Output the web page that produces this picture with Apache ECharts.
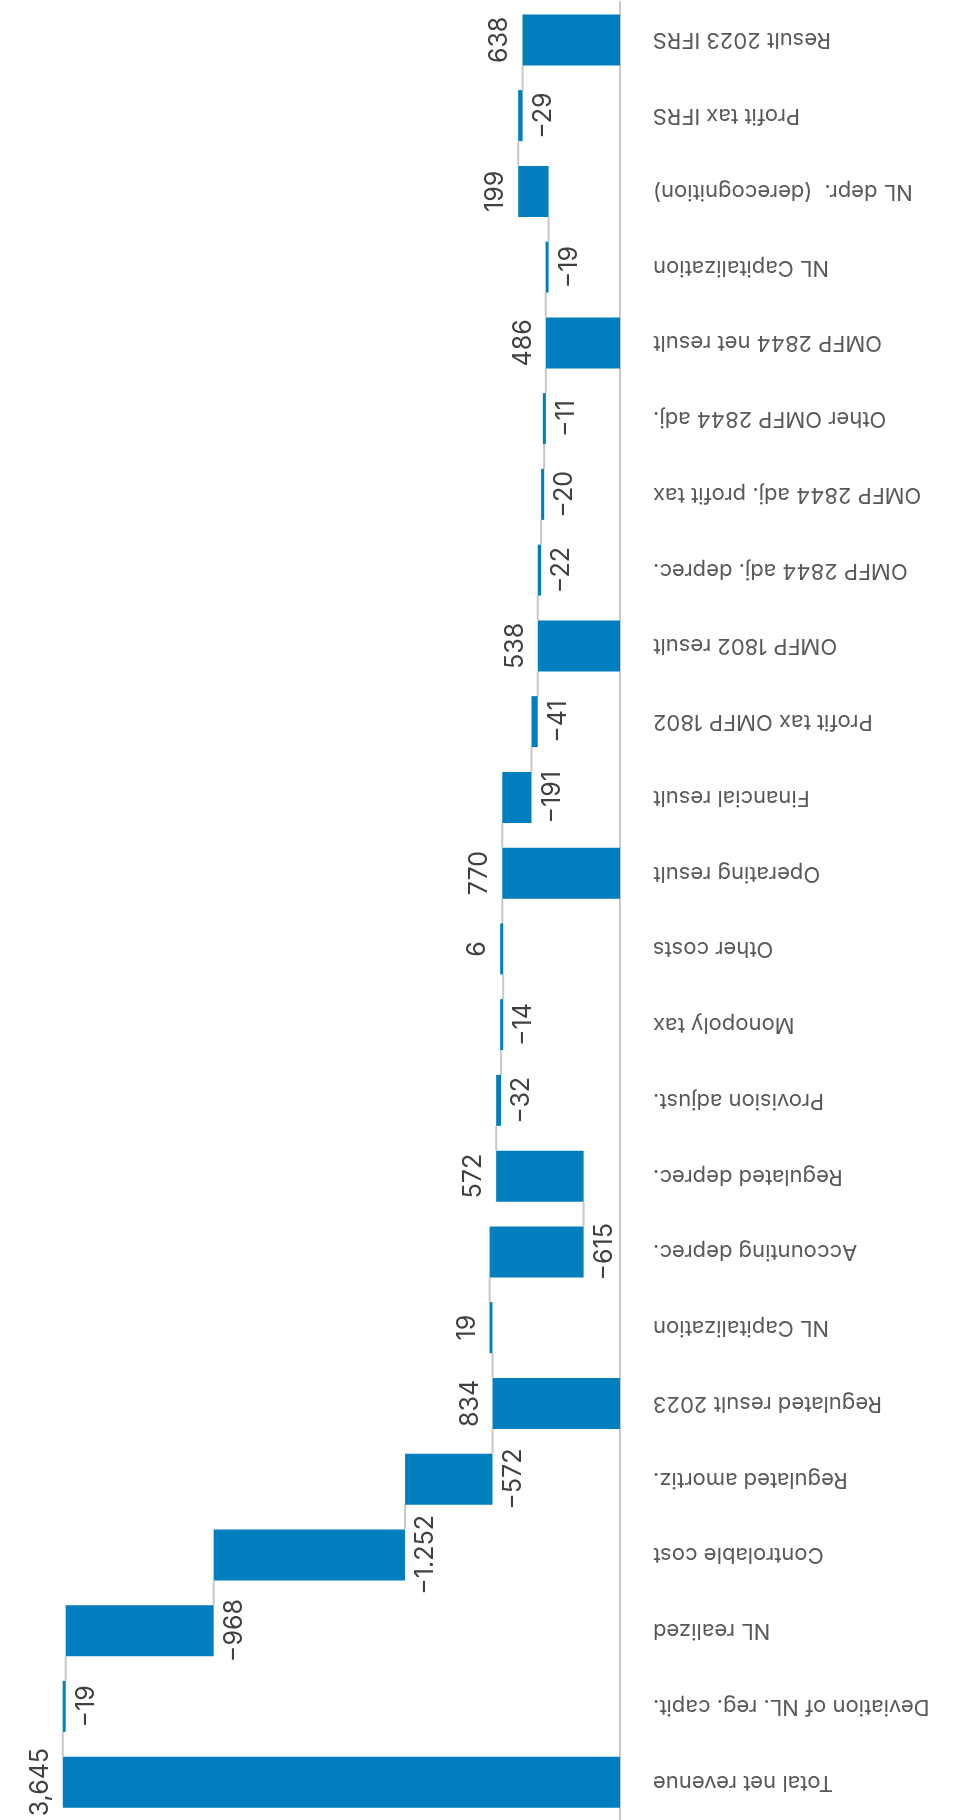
<!DOCTYPE html>
<html>
<head>
<meta charset="utf-8">
<title>Result bridge 2023</title>
<script src="https://cdn.jsdelivr.net/npm/echarts@6/dist/echarts.min.js"></script>
<style>
  html, body { margin: 0; padding: 0; background: #ffffff; }
  #chart { width: 955px; height: 1820px; }
</style>
</head>
<body>
<div id="chart"></div>
<script>
// Bridge steps, bottom to top
const categories = [
  'Total net revenue',
  'Deviation of NL. reg. capit.',
  'NL realized',
  'Controlable cost',
  'Regulated amortiz.',
  'Regulated result 2023',
  'NL Capitalization',
  'Accounting deprec.',
  'Regulated deprec.',
  'Provision adjust.',
  'Monopoly tax',
  'Other costs',
  'Operating result',
  'Financial result',
  'Profit tax OMFP 1802',
  'OMFP 1802 result',
  'OMFP 2844 adj. deprec.',
  'OMFP 2844 adj. profit tax',
  'Other OMFP 2844 adj.',
  'OMFP 2844 net result',
  'NL Capitalization',
  'NL depr.  (derecognition)',
  'Profit tax IFRS',
  'Result 2023 IFRS'
];

// Signed step values
const values = [3645, -19, -968, -1252, -572, 834, 19, -615, 572, -32, -14, 6,
                770, -191, -41, 538, -22, -20, -11, 486, -19, 199, -29, 638];

// 1 = subtotal drawn from zero, 0 = change from the running total
const isSubtotal = [1, 0, 0, 0, 0, 1, 0, 0, 0, 0, 0, 0,
                    1, 0, 0, 1, 0, 0, 0, 1, 0, 0, 0, 1];

const BAR_COLOR = '#007EBD';
const LINK_COLOR = '#c8c8c8';
const BAR_W = 51;
const FONT = 'Inter, "Noto Sans", sans-serif';

// Running totals: invisible offset + visible bar length + level after each step
const offsets = [];
const lengths = [];
const levels = [];
let running = 0;
values.forEach((v, i) => {
  if (isSubtotal[i]) {
    offsets.push(0);
    lengths.push(v);
    running = v;
  } else {
    const next = running + v;
    offsets.push(Math.min(running, next));
    lengths.push(Math.abs(v));
    running = next;
  }
  levels.push(running);
});

function group(n, sep) {
  return String(n).replace(/\B(?=(\d{3})+(?!\d))/g, sep);
}
function fmt(v) {
  return v < 0 ? '\u2212' + group(-v, '.') : group(v, ',');
}

const barData = lengths.map((len, i) => {
  const up = values[i] >= 0;
  return {
    value: len,
    label: {
      position: up ? 'left' : 'right',
      align: 'center',
      verticalAlign: up ? 'bottom' : 'top',
      distance: up ? 10 : 8
    }
  };
});

const linkData = [];
for (let i = 0; i < categories.length - 1; i++) {
  linkData.push([levels[i], i]);
}

const chart = echarts.init(document.getElementById('chart'), null, { renderer: 'canvas' });

chart.setOption({
  animation: false,
  backgroundColor: '#ffffff',
  grid: { left: 8.5, right: 335, top: 2, bottom: 0, containLabel: false },
  xAxis: {
    type: 'value',
    inverse: true,
    min: 0,
    max: 4000,
    show: false,
    splitLine: { show: false }
  },
  yAxis: {
    type: 'category',
    position: 'right',
    data: categories,
    axisLine: { show: true, lineStyle: { color: LINK_COLOR, width: 2 } },
    axisTick: { show: false },
    axisLabel: {
      rotate: 180,
      margin: 33,
      fontSize: 22,
      fontFamily: FONT,
      color: '#595959',
      interval: 0
    }
  },
  series: [
    {
      name: 'offset',
      type: 'bar',
      stack: 'bridge',
      barWidth: BAR_W,
      itemStyle: { color: 'transparent' },
      emphasis: { disabled: true },
      data: offsets,
      silent: true,
      z: 2
    },
    {
      name: 'step',
      type: 'bar',
      stack: 'bridge',
      barWidth: BAR_W,
      barMinHeight: 3,
      itemStyle: { color: BAR_COLOR },
      label: {
        show: true,
        rotate: 90,
        fontSize: 25,
        fontFamily: FONT,
        color: '#404040',
        formatter: p => fmt(values[p.dataIndex])
      },
      data: barData,
      z: 3
    },
    {
      name: 'links',
      type: 'custom',
      encode: { x: 0, y: 1 },
      silent: true,
      z: 1,
      data: linkData,
      renderItem: function (params, api) {
        const level = api.value(0);
        const idx = api.value(1);
        const a = api.coord([level, idx]);
        const b = api.coord([level, idx + 1]);
        const half = BAR_W / 2;
        return {
          type: 'line',
          shape: { x1: a[0], y1: a[1] - half, x2: b[0], y2: b[1] + half },
          style: { stroke: LINK_COLOR, lineWidth: 2 }
        };
      }
    }
  ]
});
</script>
</body>
</html>
